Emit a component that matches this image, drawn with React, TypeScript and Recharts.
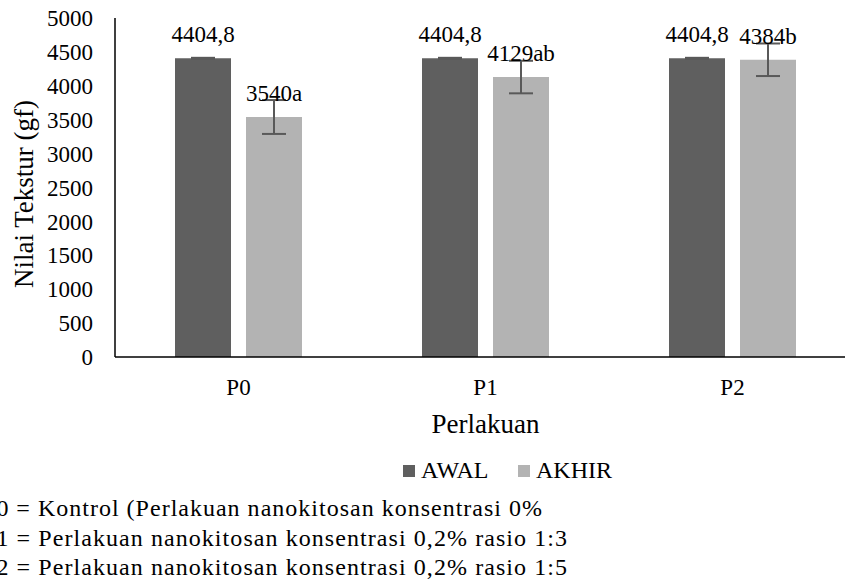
import React from "react";
import { BarChart, Bar, XAxis, YAxis, ErrorBar, LabelList, Label } from "recharts";

const categories = ["P0", "P1", "P2"];
const awalValues = [4404.8, 4404.8, 4404.8];
const awalErrors = [8, 8, 8];
const awalLabels = ["4404,8", "4404,8", "4404,8"];
const akhirValues = [3540, 4129, 4384];
const akhirErrors = [250, 240, 240];
const akhirLabels = ["3540a", "4129ab", "4384b"];
const yTicks = [0, 500, 1000, 1500, 2000, 2500, 3000, 3500, 4000, 4500, 5000];
const seriesNames = ["AWAL", "AKHIR"];
const notes = [
  "P0 = Kontrol (Perlakuan nanokitosan konsentrasi 0%",
  "P1 = Perlakuan nanokitosan konsentrasi 0,2% rasio 1:3",
  "P2 = Perlakuan nanokitosan konsentrasi 0,2% rasio 1:5",
];
const noteWidths = [560, 585, 585];

const AWAL_COLOR = "#5f5f5f";
const AKHIR_COLOR = "#b3b3b3";
const FONT = "Liberation Serif";

const data = categories.map((name, i) => ({
  name,
  awal: awalValues[i],
  awalErr: awalErrors[i],
  awalLabel: awalLabels[i],
  akhir: akhirValues[i],
  akhirErr: akhirErrors[i],
  akhirLabel: akhirLabels[i],
}));

const YTitle = () => (
  <text
    x={24}
    y={194}
    transform="rotate(-90 24 194)"
    textAnchor="middle"
    dominantBaseline="central"
    fontSize={27}
    fontFamily={FONT}
    fill="#000"
  >
    Nilai Tekstur (gf)
  </text>
);

export default function App() {
  return (
    <div
      style={{
        position: "fixed",
        left: 0,
        top: 0,
        width: 845,
        height: 585,
        overflow: "hidden",
        background: "#fff",
      }}
    >
      <BarChart
        width={900}
        height={585}
        data={data}
        margin={{ top: 18, right: 44, left: 0, bottom: 148 }}
        barSize={56}
        barGap={15}
      >
        <XAxis
          dataKey="name"
          height={80}
          tickLine={false}
          tickSize={0}
          tickMargin={22}
          axisLine={{ stroke: "#000", strokeWidth: 1.5 }}
          tick={{ fill: "#000", fontSize: 23, fontFamily: FONT }}
        >
          <Label
            value="Perlakuan"
            position="insideBottom"
            offset={4}
            fill="#000"
            fontSize={27}
            fontFamily={FONT}
          />
        </XAxis>
        <YAxis
          width={115}
          domain={[0, 5000]}
          ticks={yTicks}
          interval={0}
          tickLine={false}
          tickSize={0}
          tickMargin={22}
          axisLine={{ stroke: "#000", strokeWidth: 1.5 }}
          tick={{ fill: "#000", fontSize: 23, fontFamily: FONT }}
        >
          <Label content={<YTitle />} />
        </YAxis>
        <Bar dataKey="awal" name={seriesNames[0]} fill={AWAL_COLOR} isAnimationActive={false}>
          <ErrorBar dataKey="awalErr" width={12} stroke="#595959" strokeWidth={2} />
          <LabelList
            dataKey="awalLabel"
            position="top"
            offset={16}
            fill="#000"
            fontSize={23}
            fontFamily={FONT}
          />
        </Bar>
        <Bar dataKey="akhir" name={seriesNames[1]} fill={AKHIR_COLOR} isAnimationActive={false}>
          <ErrorBar dataKey="akhirErr" width={12} stroke="#595959" strokeWidth={2} />
          <LabelList
            dataKey="akhirLabel"
            position="top"
            offset={16}
            fill="#000"
            fontSize={23}
            fontFamily={FONT}
          />
        </Bar>
      </BarChart>

      {/* legend + keterangan */}
      <svg width={845} height={585} style={{ position: "absolute", left: 0, top: 0 }}>
        <rect x={403} y={465} width={12} height={12} fill={AWAL_COLOR} />
        <text x={421} y={478} fontSize={24} fontFamily={FONT} fill="#000">
          {seriesNames[0]}
        </text>
        <rect x={518} y={465} width={12} height={12} fill={AKHIR_COLOR} />
        <text x={536} y={478} fontSize={24} fontFamily={FONT} fill="#000">
          {seriesNames[1]}
        </text>
        {notes.map((t, i) => (
          <text
            key={i}
            x={-18}
            y={516 + i * 29.5}
            fontSize={24}
            fontFamily={FONT}
            fill="#000"
            textLength={noteWidths[i]}
            lengthAdjust="spacing"
          >
            {t}
          </text>
        ))}
      </svg>
    </div>
  );
}
